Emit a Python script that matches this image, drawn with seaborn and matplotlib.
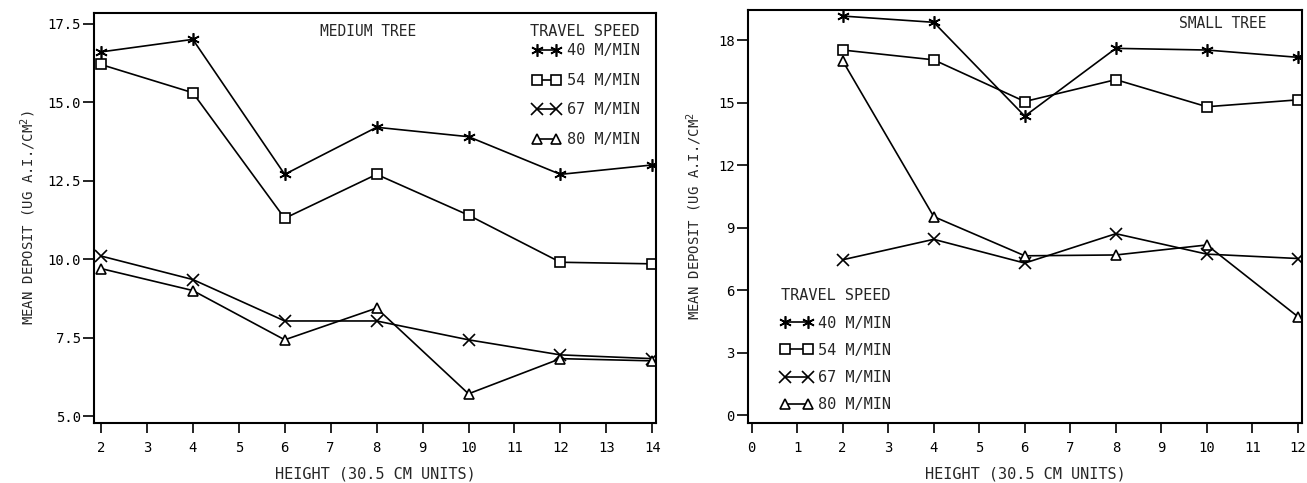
import numpy as np
import pandas as pd
import matplotlib
matplotlib.use("Agg")
import matplotlib.pyplot as plt
import seaborn as sns

# Spray deposit by sampling height for four sprayer travel speeds
speeds = ["40 M/MIN", "54 M/MIN", "67 M/MIN", "80 M/MIN"]

medium_height = [2, 4, 6, 8, 10, 12, 14]
medium_40 = [16.6, 17.0, 12.7, 14.2, 13.9, 12.7, 13.0]
medium_54 = [16.2, 15.3, 11.3, 12.7, 11.4, 9.9, 9.85]
medium_67 = [10.1, 9.35, 8.03, 8.03, 7.43, 6.95, 6.83]
medium_80 = [9.7, 9.0, 7.43, 8.44, 5.71, 6.83, 6.76]

small_height = [2, 4, 6, 8, 10, 12]
small_40 = [19.15, 18.85, 14.35, 17.6, 17.52, 17.17]
small_54 = [17.52, 17.05, 15.05, 16.1, 14.8, 15.13]
small_67 = [7.46, 8.44, 7.3, 8.71, 7.73, 7.52]
small_80 = [17.0, 9.53, 7.65, 7.69, 8.17, 4.73]

medium_yticks = [5.0, 7.5, 10.0, 12.5, 15.0, 17.5]
small_yticks = [0, 3, 6, 9, 12, 15, 18]

markers = {
    "40 M/MIN": (6, 2, 0),
    "54 M/MIN": "s",
    "67 M/MIN": "x",
    "80 M/MIN": "^",
}
msizes = {"40 M/MIN": 9, "54 M/MIN": 6.5, "67 M/MIN": 8, "80 M/MIN": 7}


def long_frame(heights, series):
    rows = []
    for sp, vals in zip(speeds, series):
        for h, v in zip(heights, vals):
            rows.append({"height": h, "deposit": v, "speed": sp})
    return pd.DataFrame(rows)


medium_df = long_frame(medium_height, [medium_40, medium_54, medium_67, medium_80])
small_df = long_frame(small_height, [small_40, small_54, small_67, small_80])

sns.set_theme(style="ticks")
plt.rcParams["font.family"] = ["DejaVu Sans Mono", "DejaVu Sans"]
plt.rcParams["font.size"] = 10

W, H = 1307, 483
fig = plt.figure(figsize=(W / 100, H / 100), dpi=100)
fig.patch.set_facecolor("white")


def px_axes(left, right, top, bottom):
    return fig.add_axes([left / W, 1 - bottom / H, (right - left) / W, (bottom - top) / H])


ax1 = px_axes(94, 656, 13, 423)
ax2 = px_axes(748, 1302, 10, 423)


def draw(ax, df, ylabel, ylabelpad):
    for sp in speeds:
        sub = df[df["speed"] == sp]
        sns.lineplot(
            data=sub, x="height", y="deposit", ax=ax, color="black",
            linewidth=1.2, marker=markers[sp], markersize=msizes[sp],
            markerfacecolor="white" if sp in ("54 M/MIN", "80 M/MIN") else "black",
            markeredgecolor="black", markeredgewidth=1.2, label=sp,
        )
    for s in ax.spines.values():
        s.set_linewidth(1.5)
        s.set_color("black")
    ax.set_facecolor("white")
    ax.tick_params(axis="x", direction="out", length=7, width=1.2,
                   colors="black", labelsize=10, pad=6)
    ax.tick_params(axis="y", direction="out", length=8, width=1.2,
                   colors="black", labelsize=10, pad=1.5)
    ax.set_ylabel(ylabel, fontsize=10, labelpad=ylabelpad)
    ax.set_xlabel("HEIGHT (30.5 CM UNITS)", fontsize=11, labelpad=8)


# Medium tree panel
draw(ax1, medium_df, "MEAN DEPOSIT (UG A.I./CM$^2$)", 7)
ax1.set_xlim(1.85, 14.08)
ax1.set_ylim(4.78, 17.84)
ax1.set_xticks(range(2, 15))
ax1.set_yticks(medium_yticks)
ax1.set_yticklabels([f"{v:.1f}" for v in medium_yticks])
ax1.text(0.487, 0.955, "MEDIUM TREE", transform=ax1.transAxes,
         ha="center", va="center", fontsize=10.5)
ax1.text(0.9715, 0.954, "TRAVEL SPEED", transform=ax1.transAxes,
         ha="right", va="center", fontsize=11)
ax1.legend(loc="upper right", frameon=False,
           numpoints=2, handlelength=1.8, handletextpad=0.45,
           labelspacing=0.95, fontsize=11,
           bbox_to_anchor=(0.9715, 0.926), borderaxespad=0, borderpad=0)

# Small tree panel
draw(ax2, small_df, "MEAN DEPOSIT (UG A.I./CM$^{2}$", 10)
ax2.set_xlim(-0.08, 12.09)
ax2.set_ylim(-0.37, 19.44)
ax2.set_xticks(range(0, 13))
ax2.set_yticks(small_yticks)
ax2.text(0.857, 0.968, "SMALL TREE", transform=ax2.transAxes,
         ha="center", va="center", fontsize=10.5)
ax2.legend(title="TRAVEL SPEED", loc="upper left", frameon=False,
           numpoints=2, handlelength=2.1, handletextpad=0.4,
           labelspacing=0.8, fontsize=11, title_fontsize=11,
           bbox_to_anchor=(0.058, 0.326), borderaxespad=0, borderpad=0)

fig.savefig("out.png", dpi=100, facecolor="white")
